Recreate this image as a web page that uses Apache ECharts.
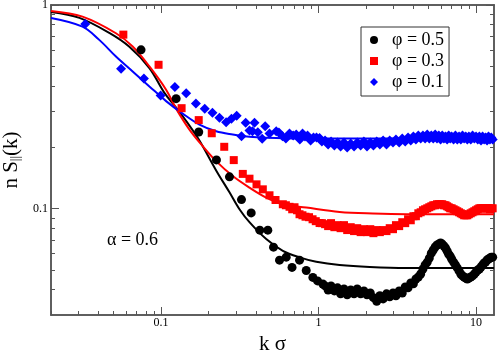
<!DOCTYPE html>
<html>
<head>
<meta charset="utf-8">
<script src="https://cdn.jsdelivr.net/npm/echarts@6/dist/echarts.min.js"></script>
<style>
html, body { margin: 0; padding: 0; background: #fff; }
#chart { width: 498px; height: 351px; }
</style>
</head>
<body>
<div id="chart"></div>
<script>
// axis ranges and ticks
const xMin = 0.02, xMax = 13;
const yMin = 0.03, yMax = 1;
const xMajor = [0.1, 1, 10];
const xMinor = [0.02, 0.03, 0.04, 0.05, 0.06, 0.07, 0.08, 0.09, 0.2, 0.3, 0.4, 0.5, 0.6, 0.7, 0.8, 0.9, 2, 3, 4, 5, 6, 7, 8, 9];
const yMajor = [0.1, 1];
const yMinor = [0.04, 0.05, 0.06, 0.07, 0.08, 0.09, 0.2, 0.3, 0.4, 0.5, 0.6, 0.7, 0.8, 0.9];

const names = ['φ = 0.5', 'φ = 0.3', 'φ = 0.1'];

// low k points
const blackLowK = [0.0746, 0.1246, 0.1734, 0.2247, 0.2718, 0.324, 0.3734, 0.4235, 0.4762, 0.5175, 0.565, 0.623, 0.6783, 0.757, 0.835, 0.9198, 0.9854, 1.065];
const blackLowS = [0.602, 0.3467, 0.2376, 0.1734, 0.1432, 0.1107, 0.0952, 0.0783, 0.0783, 0.0646, 0.0558, 0.0577, 0.0514, 0.0558, 0.0496, 0.0459, 0.0441, 0.0426];

const redLowK = [0.0576, 0.0964, 0.135, 0.1734, 0.2098, 0.2518, 0.2894, 0.3303, 0.3642, 0.4036, 0.4426, 0.488, 0.533, 0.593, 0.62, 0.654, 0.68, 0.7036, 0.73, 0.757, 0.79, 0.8264, 0.87, 0.916, 0.96, 1.015, 1.05];
const redLowS = [0.7153, 0.5085, 0.3113, 0.272, 0.2344, 0.2011, 0.173, 0.148, 0.1402, 0.1315, 0.1243, 0.1162, 0.1102, 0.105, 0.1038, 0.102, 0.0992, 0.1015, 0.0981, 0.0938, 0.0927, 0.0912, 0.0907, 0.0886, 0.0867, 0.0849, 0.0848];

const blueLowK = [0.033, 0.0557, 0.0778, 0.0993, 0.1224, 0.1444, 0.1664, 0.1893, 0.2119, 0.2348, 0.2589, 0.2798, 0.302, 0.324, 0.3444, 0.3642, 0.3806, 0.3918, 0.4113, 0.4387, 0.4583, 0.488, 0.5384, 0.56, 0.5903, 0.62, 0.654, 0.69, 0.7214, 0.76, 0.791, 0.82, 0.851, 0.89, 0.929, 0.97, 1.015, 1.05];
const blueLowS = [0.807, 0.486, 0.4359, 0.3597, 0.3956, 0.3687, 0.3284, 0.309, 0.2954, 0.2792, 0.2651, 0.2758, 0.2856, 0.2266, 0.2636, 0.2417, 0.2398, 0.2636, 0.2371, 0.2201, 0.2538, 0.2337, 0.2398, 0.2363, 0.2266, 0.2209, 0.2337, 0.2285, 0.231, 0.2184, 0.2337, 0.2259, 0.2284, 0.216, 0.2234, 0.2234, 0.2222, 0.2136];

// dense part, k > 1
const bandK = [1.1, 1.15, 1.2, 1.26, 1.32, 1.38, 1.45, 1.52, 1.6, 1.68, 1.76, 1.85, 1.94, 2.03, 2.13, 2.23, 2.34, 2.45, 2.57, 2.7, 2.83, 2.97, 3.1, 3.25, 3.4, 3.55, 3.7, 3.85, 4.0, 4.15, 4.3, 4.45, 4.6, 4.75, 4.9, 5.05, 5.2, 5.35, 5.5, 5.65, 5.8, 5.95, 6.1, 6.25, 6.4, 6.55, 6.7, 6.85, 7.0, 7.2, 7.4, 7.6, 7.8, 8.0, 8.2, 8.4, 8.6, 8.8, 9.0, 9.25, 9.5, 9.75, 10.0, 10.25, 10.5, 10.75, 11.0, 11.25, 11.5, 11.75, 12.0, 12.25, 12.5, 12.75];
const blackBandS = [0.0417, 0.0398, 0.0417, 0.0394, 0.0408, 0.0381, 0.0403, 0.0377, 0.0398, 0.0381, 0.0403, 0.0381, 0.0394, 0.0377, 0.0385, 0.0365, 0.035, 0.0373, 0.036, 0.0381, 0.0369, 0.0385, 0.0373, 0.0394, 0.0385, 0.0412, 0.0408, 0.0431, 0.0427, 0.0451, 0.0461, 0.0477, 0.0505, 0.0528, 0.0546, 0.0571, 0.0604, 0.0626, 0.0647, 0.0662, 0.0669, 0.0677, 0.0669, 0.0655, 0.064, 0.0619, 0.0597, 0.0584, 0.0565, 0.0546, 0.0528, 0.0511, 0.0494, 0.0477, 0.0467, 0.0461, 0.0456, 0.0451, 0.0456, 0.0461, 0.0467, 0.0477, 0.0488, 0.0499, 0.0505, 0.0516, 0.0528, 0.054, 0.0546, 0.0559, 0.0565, 0.0571, 0.0577, 0.0577];
const redBandS = [0.0838, 0.082, 0.0848, 0.081, 0.0829, 0.0801, 0.0829, 0.0784, 0.081, 0.0775, 0.0801, 0.0766, 0.0792, 0.0766, 0.0792, 0.0757, 0.0784, 0.0766, 0.0784, 0.0775, 0.0801, 0.0792, 0.0829, 0.082, 0.0857, 0.0848, 0.0886, 0.0876, 0.0917, 0.0917, 0.0948, 0.0959, 0.0981, 0.0992, 0.1003, 0.1015, 0.1026, 0.1038, 0.1038, 0.105, 0.105, 0.105, 0.105, 0.1038, 0.1038, 0.1026, 0.1015, 0.1003, 0.1003, 0.0992, 0.0981, 0.097, 0.0959, 0.0948, 0.0938, 0.0927, 0.0927, 0.0927, 0.0938, 0.0948, 0.0959, 0.097, 0.0981, 0.0992, 0.1003, 0.1003, 0.1003, 0.1003, 0.1003, 0.1003, 0.1003, 0.0992, 0.1003, 0.1003];
const blueBandS = [0.216, 0.2065, 0.2136, 0.2041, 0.2112, 0.2019, 0.2112, 0.1995, 0.2088, 0.2019, 0.2112, 0.2041, 0.2136, 0.2019, 0.2112, 0.2041, 0.2136, 0.2065, 0.216, 0.2065, 0.216, 0.2112, 0.2184, 0.2112, 0.2209, 0.2136, 0.2234, 0.216, 0.2259, 0.2184, 0.2285, 0.2209, 0.2285, 0.2209, 0.2311, 0.2209, 0.2285, 0.2209, 0.2311, 0.2209, 0.2285, 0.2184, 0.2285, 0.2209, 0.2259, 0.2184, 0.2285, 0.2209, 0.2259, 0.2184, 0.2285, 0.2184, 0.2259, 0.2184, 0.2285, 0.2209, 0.2259, 0.2184, 0.2259, 0.2184, 0.2285, 0.2209, 0.2259, 0.2184, 0.2259, 0.216, 0.2259, 0.2184, 0.2234, 0.216, 0.2259, 0.2184, 0.2234, 0.2184];

// fitted curves
const blackFitK = [0.02, 0.0303, 0.0469, 0.0629, 0.0843, 0.105, 0.1246, 0.1514, 0.1752, 0.2237, 0.2718, 0.3147, 0.364, 0.4651, 0.5932, 0.757, 0.9669, 1.36, 2.11, 3.61, 13];
const blackFitS = [0.924, 0.864, 0.729, 0.623, 0.49, 0.37, 0.3131, 0.2557, 0.216, 0.154, 0.1202, 0.0992, 0.0857, 0.0708, 0.062, 0.0576, 0.0548, 0.0528, 0.0516, 0.051, 0.051];
const redFitK = [0.02, 0.0317, 0.0517, 0.066, 0.0843, 0.1076, 0.1246, 0.1514, 0.1839, 0.2237, 0.2852, 0.364, 0.4651, 0.5932, 0.835, 1.36, 2.214, 3.61, 13];
const redFitS = [0.935, 0.8764, 0.7265, 0.6251, 0.4989, 0.3836, 0.3097, 0.2443, 0.2025, 0.171, 0.1444, 0.1267, 0.1132, 0.105, 0.1011, 0.0962, 0.0945, 0.0938, 0.0938];
const blueFitK = [0.02, 0.0317, 0.0405, 0.0517, 0.066, 0.0843, 0.1076, 0.1372, 0.1752, 0.2237, 0.2852, 0.364, 0.4651, 0.757, 13];
const blueFitS = [0.864, 0.7831, 0.674, 0.5585, 0.4716, 0.3983, 0.3372, 0.2928, 0.2586, 0.2398, 0.2311, 0.2251, 0.2226, 0.2209, 0.2209];

const FONT = '"Liberation Serif", "DejaVu Serif", serif';
const AXIS_COLOR = '#555';

function zip(ks, ss) {
  return ks.map((k, i) => [k, ss[i]]);
}

function fmt(v) {
  return String(Number(v.toPrecision(3)));
}

// one axis = one side, either minor ticks or major ticks (+labels)
function logAxis(pos, min, max, ticks, len, labels) {
  return {
    type: 'log',
    logBase: 10,
    position: pos,
    min: min,
    max: max,
    axisLine: { show: true, onZero: false, lineStyle: { color: AXIS_COLOR, width: 1.5 } },
    axisTick: { show: true, inside: true, length: len, customValues: ticks, lineStyle: { color: AXIS_COLOR, width: 1 } },
    axisLabel: {
      show: !!labels,
      customValues: labels || [],
      margin: 3,
      fontFamily: FONT,
      fontSize: 12,
      color: '#000',
      formatter: fmt
    },
    splitLine: { show: false },
    minorTick: { show: false }
  };
}

const xBottomMajor = logAxis('bottom', xMin, xMax, xMajor, 8, xMajor);
xBottomMajor.axisLabel.margin = 2;
xBottomMajor.name = 'k σ';
xBottomMajor.nameLocation = 'middle';
xBottomMajor.nameGap = 17;
xBottomMajor.nameTextStyle = { fontFamily: FONT, fontSize: 21, color: '#000' };

const yLeftMajor = logAxis('left', yMin, yMax, yMajor, 8, yMajor);
yLeftMajor.name = '{m|n S}{sub|||}{m|(k)}';
yLeftMajor.nameLocation = 'middle';
yLeftMajor.nameGap = 26;
yLeftMajor.nameTextStyle = {
  fontFamily: FONT,
  color: '#000',
  rich: {
    m: { fontFamily: FONT, fontSize: 21, color: '#000' },
    sub: { fontFamily: FONT, fontSize: 13, color: '#000', padding: [9, 0, 0, 0] }
  }
};

function scatter(name, data, symbol, size, color) {
  return {
    type: 'scatter',
    name: name,
    data: data,
    symbol: symbol,
    symbolSize: size,
    itemStyle: { color: color, opacity: 1 },
    z: 3,
    silent: true
  };
}

function fit(data, color, z) {
  return {
    type: 'line',
    data: data,
    showSymbol: false,
    smooth: 0.35,
    lineStyle: { color: color, width: 2 },
    itemStyle: { color: color },
    z: z,
    silent: true
  };
}

const chart = echarts.init(document.getElementById('chart'), null, { renderer: 'canvas' });
chart.setOption({
  animation: false,
  backgroundColor: '#fff',
  grid: { left: 51, right: 4, top: 5, bottom: 36, outerBoundsMode: 'none' },
  xAxis: [
    logAxis('bottom', xMin, xMax, xMinor, 4),
    xBottomMajor,
    logAxis('top', xMin, xMax, xMinor, 4),
    logAxis('top', xMin, xMax, xMajor, 8)
  ],
  yAxis: [
    logAxis('left', yMin, yMax, yMinor, 4),
    yLeftMajor,
    logAxis('right', yMin, yMax, yMinor, 4),
    logAxis('right', yMin, yMax, yMajor, 8)
  ],
  legend: {
    orient: 'vertical',
    left: 361,
    top: 27,
    data: names,
    backgroundColor: '#fff',
    borderColor: '#333',
    borderWidth: 1,
    borderRadius: 0,
    padding: [4, 5, 5, 9],
    itemGap: 3,
    itemWidth: 8,
    itemHeight: 8,
    selectedMode: false,
    textStyle: { fontFamily: FONT, fontSize: 18, lineHeight: 18, color: '#000', padding: [0, 0, 0, 9] }
  },
  graphic: [{
    type: 'text',
    left: 107,
    top: 231,
    style: { text: 'α = 0.6', font: '18px "Liberation Serif", serif', fill: '#000' }
  }],
  series: [
    fit(zip(blackFitK, blackFitS), '#000', 2),
    fit(zip(redFitK, redFitS), '#ff0000', 2),
    fit(zip(blueFitK, blueFitS), '#0000ff', 2),
    scatter(names[0], zip(blackLowK, blackLowS).concat(zip(bandK, blackBandS)), 'circle', 9, '#000'),
    scatter(names[1], zip(redLowK, redLowS).concat(zip(bandK, redBandS)), 'rect', 8, '#ff0000'),
    scatter(names[2], zip(blueLowK, blueLowS).concat(zip(bandK, blueBandS)), 'diamond', 10, '#0000ff')
  ]
});
</script>
</body>
</html>
